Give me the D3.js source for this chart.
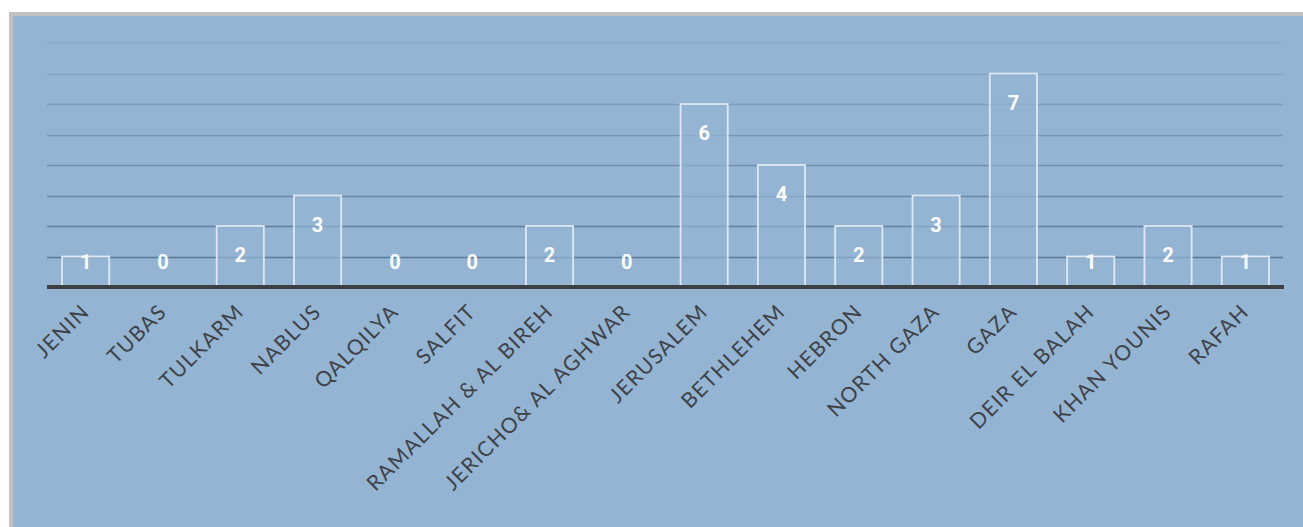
<!DOCTYPE html>
<html><head><meta charset="utf-8">
<script src="https://cdn.jsdelivr.net/npm/d3@7"></script>
<style>
html,body{margin:0;padding:0;background:#fff;}
svg{display:block;}
</style></head>
<body>
<svg id="chart" width="1303" height="527"></svg>
<script>
const categories = ["JENIN","TUBAS","TULKARM","NABLUS","QALQILYA","SALFIT","RAMALLAH & AL BIREH","JERICHO& AL AGHWAR","JERUSALEM","BETHLEHEM","HEBRON","NORTH GAZA","GAZA","DEIR EL BALAH","KHAN YOUNIS","RAFAH"];
const values = [1,0,2,3,0,0,2,0,6,4,2,3,7,1,2,1];
const gridTicks = [1,2,3,4,5,6,7,8];

const svg = d3.select("#chart");
const W = 1303, H = 527;
// frame
svg.append("rect").attr("x",9).attr("y",12).attr("width",W-9).attr("height",H-12).attr("fill","#c1c1c1");
svg.append("rect").attr("x",13).attr("y",16).attr("width",W-13).attr("height",H-16).attr("fill","#93b4d3");

const left = 47, right = 1284, y0 = 287, yTop = 43;
const x = d3.scaleBand().domain(categories).range([left, right]).paddingInner(0.39).paddingOuter(0.195);
const y = d3.scaleLinear().domain([0,8]).range([y0, yTop]);

// gridlines (darker toward bottom)
const gOp = d3.scaleLinear().domain([8,1]).range([0.06,0.55]);
svg.append("g").selectAll("line").data(gridTicks).join("line")
  .attr("x1",left).attr("x2",right-1)
  .attr("y1",d=>Math.round(y(d))+0.5).attr("y2",d=>Math.round(y(d))+0.5)
  .attr("stroke","#2e4a66").attr("stroke-opacity",d=>gOp(d)).attr("stroke-width",1.6);

// bars
svg.append("g").selectAll("rect").data(values).join("rect")
  .attr("x",(d,i)=>x(categories[i]))
  .attr("y",d=>y(d))
  .attr("width",x.bandwidth())
  .attr("height",d=>y0-y(d))
  .attr("fill","#93b4d3").attr("fill-opacity",0.7)
  .attr("stroke","#dfe8f1").attr("stroke-width",1.8);

// baseline
svg.append("line").attr("x1",left).attr("x2",right).attr("y1",y0).attr("y2",y0)
  .attr("stroke","#3d3f42").attr("stroke-width",4);

// value labels
svg.append("g").selectAll("text").data(values).join("text")
  .attr("x",(d,i)=>x(categories[i])+x.bandwidth()/2)
  .attr("y",d=>Math.min(y(d)+29,262)+7)
  .attr("text-anchor","middle")
  .attr("font-family","Roboto, 'Open Sans', sans-serif")
  .attr("font-weight","bold").attr("font-size",20)
  .attr("fill","#ffffff")
  .text(d=>d);

// category labels
svg.append("g").selectAll("text").data(categories).join("text")
  .attr("transform",d=>`translate(${x(d)+x.bandwidth()/2+5},${313}) rotate(-45)`)
  .attr("text-anchor","end")
  .attr("font-family","Lato, 'Noto Sans', sans-serif")
  .attr("font-weight",400)
  .attr("font-size",21)
  .attr("letter-spacing","1.3px")
  .attr("fill","#404246")
  .text(d=>d);
</script>
</body></html>
